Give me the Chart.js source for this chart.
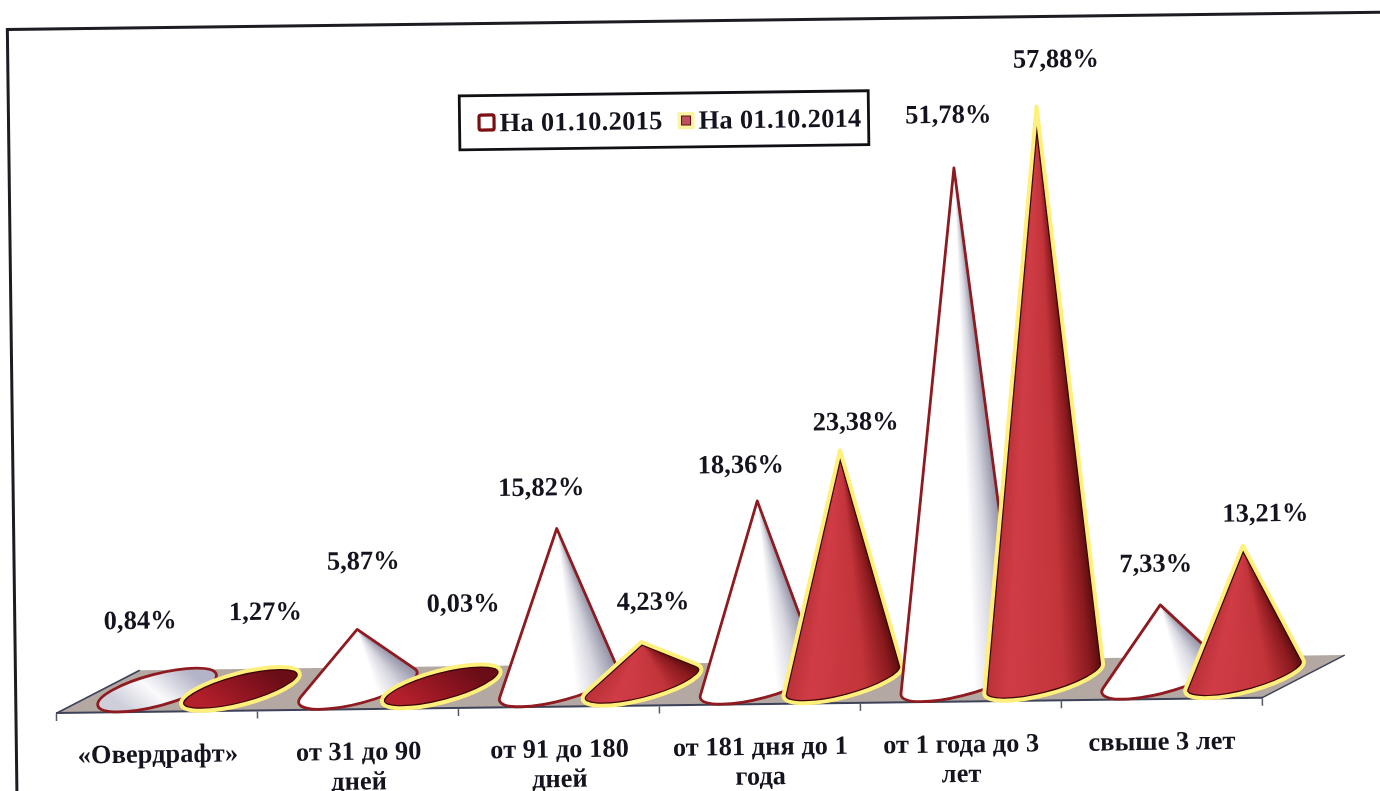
<!DOCTYPE html>
<html lang="ru">
<head>
<meta charset="utf-8">
<title>Структура по срокам</title>
<script src="https://cdn.jsdelivr.net/npm/chart.js@4"></script>
<style>
  html, body { margin: 0; padding: 0; background: #fff; overflow: hidden; }
  canvas { display: block; }
</style>
</head>
<body>
<canvas id="cones" width="1380" height="791"></canvas>
<script>
const categories = [
    '«Овердрафт»',
    ['от 31 до 90', 'дней'],
    ['от 91 до 180', 'дней'],
    ['от 181 дня до 1', 'года'],
    ['от 1 года до 3', 'лет'],
    'свыше 3 лет'
];
const seriesNames = ['На 01.10.2015', 'На 01.10.2014'];
const values2015 = [0.84, 5.87, 15.82, 18.36, 51.78, 7.33];
const values2014 = [1.27, 0.03, 4.23, 23.38, 57.88, 13.21];

// value labels were placed by hand around the tips, offsets in px from the apex
const labelNudge2015 = [[-16, -60], [7, -67], [-15, -40], [-16, -35], [-5, -52], [-4, -40]];
const labelNudge2014 = [[26, -63], [23, -81], [12, -39], [16, -27], [20, -46], [23, -31]];

const TILT = -0.72 * Math.PI / 180;
const SERIF = '"Liberation Serif", "Times New Roman", serif';
const INK = '#14141f';

const whiteStyle = {
    stops: [[0, '#ffffff'], [0.6, '#ffffff'], [0.8, '#d4d4de'], [1, '#8f8fa3']],
    flat: [[0, '#cfcfdb'], [0.45, '#fbfbfd'], [1, '#b4b4c8']],
    line: '#8f1a20', lineWidth: 2.8
};
const redStyle = {
    stops: [[0, '#b93038'], [0.2, '#d03c45'], [0.65, '#c2343a'], [0.88, '#8a1a1e'], [1, '#4f0a0c']],
    flat: [[0, '#b3202c'], [0.55, '#8c1420'], [1, '#6a0d16']],
    line: '#fff07c', lineWidth: 4, inner: '#3c0608'
};

// Outline of a cone standing on a tilted ellipse. Low cones stay inside their
// base, so those come back without tangent points and get drawn as a flat disc.
function coneGeometry(cx, cy, apexY, w) {
    const a = 0.735 * w, b = 0.19 * w, phi = -14 * Math.PI / 180;
    const dy = apexY - cy;
    const ux = (dy * Math.sin(phi)) / a;
    const uy = (dy * Math.cos(phi)) / b;
    const d = Math.hypot(ux, uy);
    const g = { cx, cy, apexY, a, b, phi };
    if (d < 1.5) return g;
    const tc = Math.atan2(uy, ux), spread = Math.acos(1 / d);
    g.t1 = tc + spread;
    g.t2 = tc - spread;
    return g;
}

function ellipsePoint(g, t) {
    const ex = g.a * Math.cos(t), ey = g.b * Math.sin(t);
    return {
        x: g.cx + ex * Math.cos(g.phi) - ey * Math.sin(g.phi),
        y: g.cy + ex * Math.sin(g.phi) + ey * Math.cos(g.phi)
    };
}

function drawCone(ctx, g, style) {
    ctx.save();
    ctx.beginPath();
    if (g.t1 === undefined) {
        ctx.ellipse(g.cx, g.cy, g.a, g.b, g.phi, 0, Math.PI * 2);
        const grad = ctx.createLinearGradient(g.cx - 22, g.cy + 26, g.cx + 22, g.cy - 26);
        style.flat.forEach(s => grad.addColorStop(s[0], s[1]));
        ctx.fillStyle = grad;
    } else {
        const right = ellipsePoint(g, g.t1), left = ellipsePoint(g, g.t2);
        ctx.moveTo(g.cx, g.apexY);
        ctx.lineTo(right.x, right.y);
        ctx.ellipse(g.cx, g.cy, g.a, g.b, g.phi, g.t1, g.t2, false);
        ctx.closePath();
        // shading runs round the apex so it narrows towards the tip
        const aR = Math.atan2(right.y - g.apexY, right.x - g.cx);
        const aL = Math.atan2(left.y - g.apexY, left.x - g.cx);
        const span = (aL - aR) / (2 * Math.PI);
        const grad = ctx.createConicGradient(aR, g.cx, g.apexY);
        style.stops.slice().reverse().forEach(s => grad.addColorStop(span * (1 - s[0]), s[1]));
        ctx.fillStyle = grad;
    }
    ctx.fill();
    ctx.lineJoin = 'round';
    if (style.inner) {
        ctx.save();
        ctx.clip();
        ctx.strokeStyle = style.inner;
        ctx.lineWidth = style.lineWidth + 2.4;
        ctx.stroke();
        ctx.restore();
    }
    ctx.strokeStyle = style.line;
    ctx.lineWidth = style.lineWidth;
    ctx.stroke();
    ctx.restore();
}

const conePlugin = {
    id: 'cones',
    beforeDraw(chart) {
        const ctx = chart.ctx, area = chart.chartArea;
        const w = chart.getDatasetMeta(0).data[0].width;
        ctx.save();
        // the whole sheet sits slightly skewed
        ctx.translate(690, 395.5);
        ctx.rotate(TILT);
        ctx.translate(-690, -395.5);

        // outer frame, open on the right and at the bottom
        ctx.strokeStyle = '#1c1c22';
        ctx.lineWidth = 3;
        ctx.beginPath();
        ctx.moveTo(12, 830);
        ctx.lineTo(12, 21);
        ctx.lineTo(1420, 21);
        ctx.stroke();

        // floor of the pseudo-3D plot
        const depthX = w, depthY = -w / 2;
        ctx.beginPath();
        ctx.moveTo(area.left, area.bottom);
        ctx.lineTo(area.left + depthX, area.bottom + depthY);
        ctx.lineTo(area.right + depthX, area.bottom + depthY);
        ctx.lineTo(area.right, area.bottom);
        ctx.closePath();
        ctx.fillStyle = '#b4a9a2';
        ctx.fill();
        ctx.strokeStyle = '#3d4258';
        ctx.lineWidth = 1.6;
        ctx.beginPath();
        ctx.moveTo(area.left + depthX, area.bottom + depthY);
        ctx.lineTo(area.left, area.bottom);
        ctx.moveTo(area.right, area.bottom);
        ctx.lineTo(area.right + depthX, area.bottom + depthY);
        ctx.stroke();
    },
    afterDatasetsDraw(chart) {
        const ctx = chart.ctx;
        const m0 = chart.getDatasetMeta(0).data, m1 = chart.getDatasetMeta(1).data;
        m0.forEach((bar, i) => {
            // second series stands one bar further along the floor, first one on the tick centre
            [[bar, whiteStyle], [m1[i], redStyle]].forEach(([el, style]) => {
                const g = coneGeometry(el.x + el.width / 2, el.base, el.y, el.width);
                drawCone(ctx, g, style);
            });
        });

        ctx.fillStyle = INK;
        ctx.font = 'bold 26.5px ' + SERIF;
        ctx.textAlign = 'center';
        ctx.textBaseline = 'middle';
        chart.data.datasets.forEach((ds, k) => {
            const nudge = k === 0 ? labelNudge2015 : labelNudge2014;
            chart.getDatasetMeta(k).data.forEach((el, i) => {
                const text = ds.data[i].toFixed(2).replace('.', ',') + '%';
                ctx.fillText(text, el.x + el.width / 2 + nudge[i][0], el.y + nudge[i][1]);
            });
        });
    },
    afterDraw(chart) {
        const ctx = chart.ctx;
        // legend box
        ctx.fillStyle = '#fff';
        ctx.strokeStyle = '#101014';
        ctx.lineWidth = 2.8;
        ctx.fillRect(463, 93, 409, 54);
        ctx.strokeRect(463, 93, 409, 54);

        ctx.strokeStyle = '#7c0f14';
        ctx.lineWidth = 3.2;
        ctx.beginPath();
        ctx.roundRect(482.5, 112.5, 15, 15, 2);
        ctx.stroke();

        ctx.fillStyle = '#fbf4a0';
        ctx.fillRect(681, 112, 17, 17);
        ctx.fillStyle = '#c0505f';
        ctx.strokeStyle = '#5a1015';
        ctx.lineWidth = 1;
        ctx.fillRect(685, 116, 9, 9);
        ctx.strokeRect(685, 116, 9, 9);

        ctx.fillStyle = INK;
        ctx.font = 'bold 26.5px ' + SERIF;
        ctx.letterSpacing = '0.25px';
        ctx.textAlign = 'left';
        ctx.textBaseline = 'middle';
        ctx.fillText(chart.data.datasets[0].label, 503, 122);
        ctx.fillText(chart.data.datasets[1].label, 702, 122);
        ctx.letterSpacing = '0px';
        ctx.restore();
    }
};

new Chart(document.getElementById('cones'), {
    type: 'bar',
    data: {
        labels: categories,
        datasets: [
            { label: seriesNames[0], data: values2015, backgroundColor: 'transparent' },
            { label: seriesNames[1], data: values2014, backgroundColor: 'transparent' }
        ]
    },
    plugins: [conePlugin],
    options: {
        responsive: false,
        animation: false,
        categoryPercentage: 0.83,
        barPercentage: 1,
        layout: { padding: { left: 53, right: 122, top: 90, bottom: 0 } },
        plugins: { legend: { display: false }, tooltip: { enabled: false } },
        scales: {
            x: {
                afterFit(scale) { scale.height = 86; },
                border: { color: '#3d4258', width: 2 },
                grid: { drawOnChartArea: false, color: '#55586a', tickLength: 8, tickWidth: 1.5 },
                ticks: {
                    color: INK,
                    autoSkip: false,
                    maxRotation: 0,
                    minRotation: 0,
                    padding: 21,
                    font: { family: SERIF, size: 26.5, weight: 'bold', lineHeight: 1.12 }
                }
            },
            y: { display: false, min: -2.2, max: 60 }
        }
    }
});
</script>
</body>
</html>
